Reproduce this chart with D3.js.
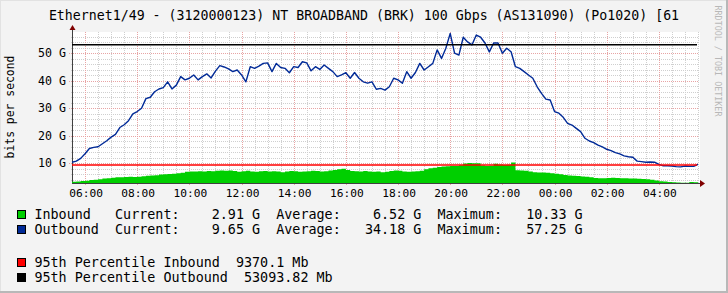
<!DOCTYPE html>
<html><head><meta charset="utf-8">
<script src="https://cdn.jsdelivr.net/npm/d3@7"></script>
<style>html,body{margin:0;padding:0;background:#F3F3F3;}svg{display:block;}text{font-family:"DejaVu Sans Mono",monospace;white-space:pre;}</style>
</head><body>
<svg id="chart" width="728" height="293"></svg>
<script>
const title = "Ethernet1/49 - (3120000123) NT BROADBAND (BRK) 100 Gbps (AS131090) (Po1020) [61";
const startTime = "2024-01-01T05:30:00Z";
const stepMinutes = 10;
// Gbps, one value every 10 minutes
const inbound = [3.3,3.4,3.6,3.7,3.9,4.0,4.2,4.5,4.6,4.8,4.9,4.9,5.0,5.1,5.0,5.1,5.3,5.5,5.6,5.7,
5.9,6.0,6.1,6.2,6.4,6.6,6.9,7.0,7.0,7.1,7.0,7.2,7.1,7.3,7.4,7.3,7.4,7.2,6.9,7.1,
7.3,7.0,6.9,7.1,7.2,7.0,7.1,7.0,6.8,7.0,7.2,7.1,6.9,7.0,7.1,7.3,7.2,7.0,7.1,7.4,
7.6,7.8,8.0,7.6,7.2,7.1,7.0,7.2,7.0,6.9,7.0,6.8,6.9,7.2,7.4,7.3,7.0,6.9,7.0,7.1,
7.3,7.8,8.2,8.4,8.7,8.8,8.9,9.0,9.0,9.3,9.9,10.1,10.0,10.0,9.2,9.0,9.1,9.8,9.6,9.4,
9.5,10.3,7.5,7.4,7.3,7.0,6.8,6.7,6.7,6.6,6.4,6.2,6.0,5.8,5.6,5.5,5.4,5.2,5.1,4.9,
4.7,4.6,4.6,4.7,4.8,4.7,4.6,4.6,4.5,4.5,4.4,4.3,4.2,4.0,3.8,3.5,3.4,3.2,3.1,3.0,
2.95,2.9,3.2,3.1,2.91];
const outbound = [10.4,10.8,11.8,13.5,15.4,15.8,16.0,17.1,18.2,19.5,20.5,23.0,24.0,25.5,28.0,28.8,30.0,33.5,34.0,36.0,
37.0,37.5,39.6,37.0,38.4,41.5,40.3,40.9,42.1,40.3,41.5,42.5,41.0,43.5,45.5,45.0,44.3,43.3,43.9,42.1,
39.6,45.1,44.5,45.3,46.3,46.5,43.3,46.3,44.8,44.5,42.9,45.1,44.8,46.9,46.5,43.6,45.1,44.1,45.7,44.5,
43.3,41.5,42.1,42.9,40.9,43.0,40.9,39.6,39.1,39.6,36.9,37.2,36.6,37.8,40.9,40.3,39.1,43.3,40.9,43.0,
46.3,43.9,45.1,46.3,51.2,48.1,51.8,57.2,50.0,49.3,55.8,54.1,53.0,56.6,55.8,53.7,50.5,53.7,53.7,50.0,
51.8,50.5,45.1,44.5,43.3,42.1,40.9,37.8,35.4,33.3,33.0,28.8,28.2,26.7,24.5,23.9,22.7,21.5,19.1,18.1,
17.5,16.6,16.0,15.1,14.6,13.9,13.4,12.7,12.4,12.2,10.8,10.6,10.4,10.5,10.4,9.6,9.1,9.1,9.0,8.8,
8.7,9.0,8.9,8.9,9.65];
const yTicks = [10,20,30,40,50];
const yLabels = ["10 G","20 G","30 G","40 G","50 G"];
const yDomain = [2.85, 57.7];
const pct95In = 9.3701, pct95Out = 53.09382;
const legendNames = ["Inbound","Outbound"];
const legendColors = ["#00CF00","#002A97"];
const current = ["2.91 G","9.65 G"];
const average = ["6.52 G","34.18 G"];
const maximum = ["10.33 G","57.25 G"];
const pctLabels = ["95th Percentile Inbound","95th Percentile Outbound"];
const pctValues = ["9370.1 Mb","53093.82 Mb"];
const pctColors = ["#FF0000","#000000"];

const svg = d3.select("#chart");
const X0=72, X1=698, Y0=32, Y1=183;
const t0 = new Date(startTime);
const times = inbound.map((_,i)=>new Date(t0.getTime()+i*stepMinutes*60000));
const x = d3.scaleUtc().domain([t0, new Date(t0.getTime()+24*3600000)]).range([X0,X1]);
const y = d3.scaleLinear().domain(yDomain).range([Y1,Y0]);

// background + frame
svg.append("rect").attr("x",0).attr("y",0).attr("width",728).attr("height",293).attr("fill","#F3F3F3");
svg.append("rect").attr("x",0).attr("y",0).attr("width",728).attr("height",1).attr("fill","#E2E2E2");
svg.append("rect").attr("x",0).attr("y",0).attr("width",1).attr("height",293).attr("fill","#E2E2E2");
svg.append("rect").attr("x",726).attr("y",0).attr("width",2).attr("height",293).attr("fill","#B8B8B8");
svg.append("rect").attr("x",0).attr("y",291).attr("width",728).attr("height",2).attr("fill","#B8B8B8");
svg.append("rect").attr("x",X0).attr("y",Y0).attr("width",X1-X0+2).attr("height",Y1-Y0).attr("fill","#FFFFFF");

const g = svg.append("g").attr("shape-rendering","crispEdges");
// minor grid
const minorT = d3.utcMinute.every(30).range(x.domain()[0], new Date(x.domain()[1].getTime()+1));
g.selectAll(".vmin").data(minorT.filter(d=>d.getUTCMinutes()!==0 || d.getUTCHours()%2!==0)).enter().append("line")
 .attr("x1",d=>Math.round(x(d))+0.5).attr("x2",d=>Math.round(x(d))+0.5).attr("y1",Y0).attr("y2",Y1+1)
 .attr("stroke","#CFCFCF").attr("stroke-dasharray","1,1");
const minorY = d3.range(4,57,2).filter(v=>v%10!==0);
g.selectAll(".hmin").data(minorY).enter().append("line")
 .attr("y1",d=>Math.round(y(d))+0.5).attr("y2",d=>Math.round(y(d))+0.5).attr("x1",X0-1).attr("x2",X1+1)
 .attr("stroke","#CFCFCF").attr("stroke-dasharray","1,1");
// major grid
const majorT = d3.utcHour.every(2).range(x.domain()[0], x.domain()[1]);
g.selectAll(".vmaj").data(majorT).enter().append("line")
 .attr("x1",d=>Math.round(x(d))+0.5).attr("x2",d=>Math.round(x(d))+0.5).attr("y1",Y0).attr("y2",Y1+3)
 .attr("stroke","#E8A4A4").attr("stroke-dasharray","1,1");
g.selectAll(".hmaj").data(yTicks).enter().append("line")
 .attr("y1",d=>Math.round(y(d))+0.5).attr("y2",d=>Math.round(y(d))+0.5).attr("x1",X0-3).attr("x2",X1+1)
 .attr("stroke","#E8A4A4").attr("stroke-dasharray","1,1");

// inbound area
svg.append("path").datum(inbound)
 .attr("d", d3.area().x((d,i)=>x(times[i])).y0(Y1).y1(d=>y(d)).curve(d3.curveStepAfter))
 .attr("fill","#00CF00");
// outbound line
svg.append("path").datum(outbound)
 .attr("d", d3.line().x((d,i)=>x(times[i])).y(d=>y(d)))
 .attr("fill","none").attr("stroke","#002A97").attr("stroke-width",1.4).attr("stroke-linejoin","round");
// percentile rules
svg.append("line").attr("x1",X0).attr("x2",X1-1).attr("y1",y(pct95In)).attr("y2",y(pct95In)).attr("stroke","#FF0000").attr("stroke-width",1.6);
svg.append("line").attr("x1",X0).attr("x2",X1-1).attr("y1",y(pct95Out)).attr("y2",y(pct95Out)).attr("stroke","#000000").attr("stroke-width",1.4);

// axes lines + arrows
g.append("line").attr("x1",X0).attr("x2",X1+2).attr("y1",Y1+0.5).attr("y2",Y1+0.5).attr("stroke","#404040");
g.append("line").attr("x1",X0+0.5).attr("x2",X0+0.5).attr("y1",Y0-3).attr("y2",Y1+1).attr("stroke","#404040");
svg.append("path").attr("d",`M${X1+2},${Y1-3}L${X1+7},${Y1+0.5}L${X1+2},${Y1+4}Z`).attr("fill","#7F0000");
svg.append("path").attr("d",`M${X0-2.5},${Y0-2}L${X0+0.5},${Y0-7}L${X0+3.5},${Y0-2}Z`).attr("fill","#7F0000");

// tick labels
const fmt = d3.utcFormat("%H:%M");
svg.selectAll(".xl").data(majorT).enter().append("text")
 .attr("x",d=>x(d)+1).attr("y",197).attr("text-anchor","middle").attr("font-size","11.2px").attr("fill","#000")
 .text(d=>fmt(d));
svg.selectAll(".yl").data(yTicks).enter().append("text")
 .attr("x",66).attr("y",d=>y(d)+4).attr("text-anchor","end").attr("font-size","11.6px").attr("fill","#000")
 .text((d,i)=>yLabels[i]);
svg.append("text").attr("transform","translate(14,107) rotate(-90)").attr("text-anchor","middle")
 .attr("font-size","11.4px").attr("fill","#000").text("bits per second");
svg.append("text").attr("transform","translate(715,61) rotate(90)").attr("text-anchor","middle")
 .attr("font-size","8.4px").attr("fill","#B8B8B8").text("RRDTOOL / TOBI OETIKER");
// title
svg.append("text").attr("x",364).attr("y",19.5).attr("text-anchor","middle").attr("font-size","13.25px").attr("fill","#000").text(title);

// legend
const cw = 8.09, lx = 34.4;
const pad = (s,n)=>s.padStart(n," ");
const rows = [218.5, 234, 266.5, 282];
legendNames.forEach((n,i)=>{
  const yy = rows[i];
  svg.append("rect").attr("x",17.5).attr("y",yy-8.5).attr("width",8).attr("height",8).attr("fill",legendColors[i]).attr("stroke","#000").attr("stroke-width",1).attr("shape-rendering","crispEdges");
  const s = n.padEnd(10," ")+"Current:"+pad(current[i],10)+"  Average:"+pad(average[i],10)+"  Maximum:"+pad(maximum[i],10);
  svg.append("text").attr("x",lx).attr("y",yy).attr("font-size","13.4px").attr("fill","#000").text(s);
});
pctLabels.forEach((n,i)=>{
  const yy = rows[i+2];
  svg.append("rect").attr("x",17.5).attr("y",yy-8.5).attr("width",8).attr("height",8).attr("fill",pctColors[i]).attr("stroke","#000").attr("stroke-width",1).attr("shape-rendering","crispEdges");
  svg.append("text").attr("x",lx).attr("y",yy).attr("font-size","13.4px").attr("fill","#000").text(n+"  "+pctValues[i]);
});
</script>
</body></html>
